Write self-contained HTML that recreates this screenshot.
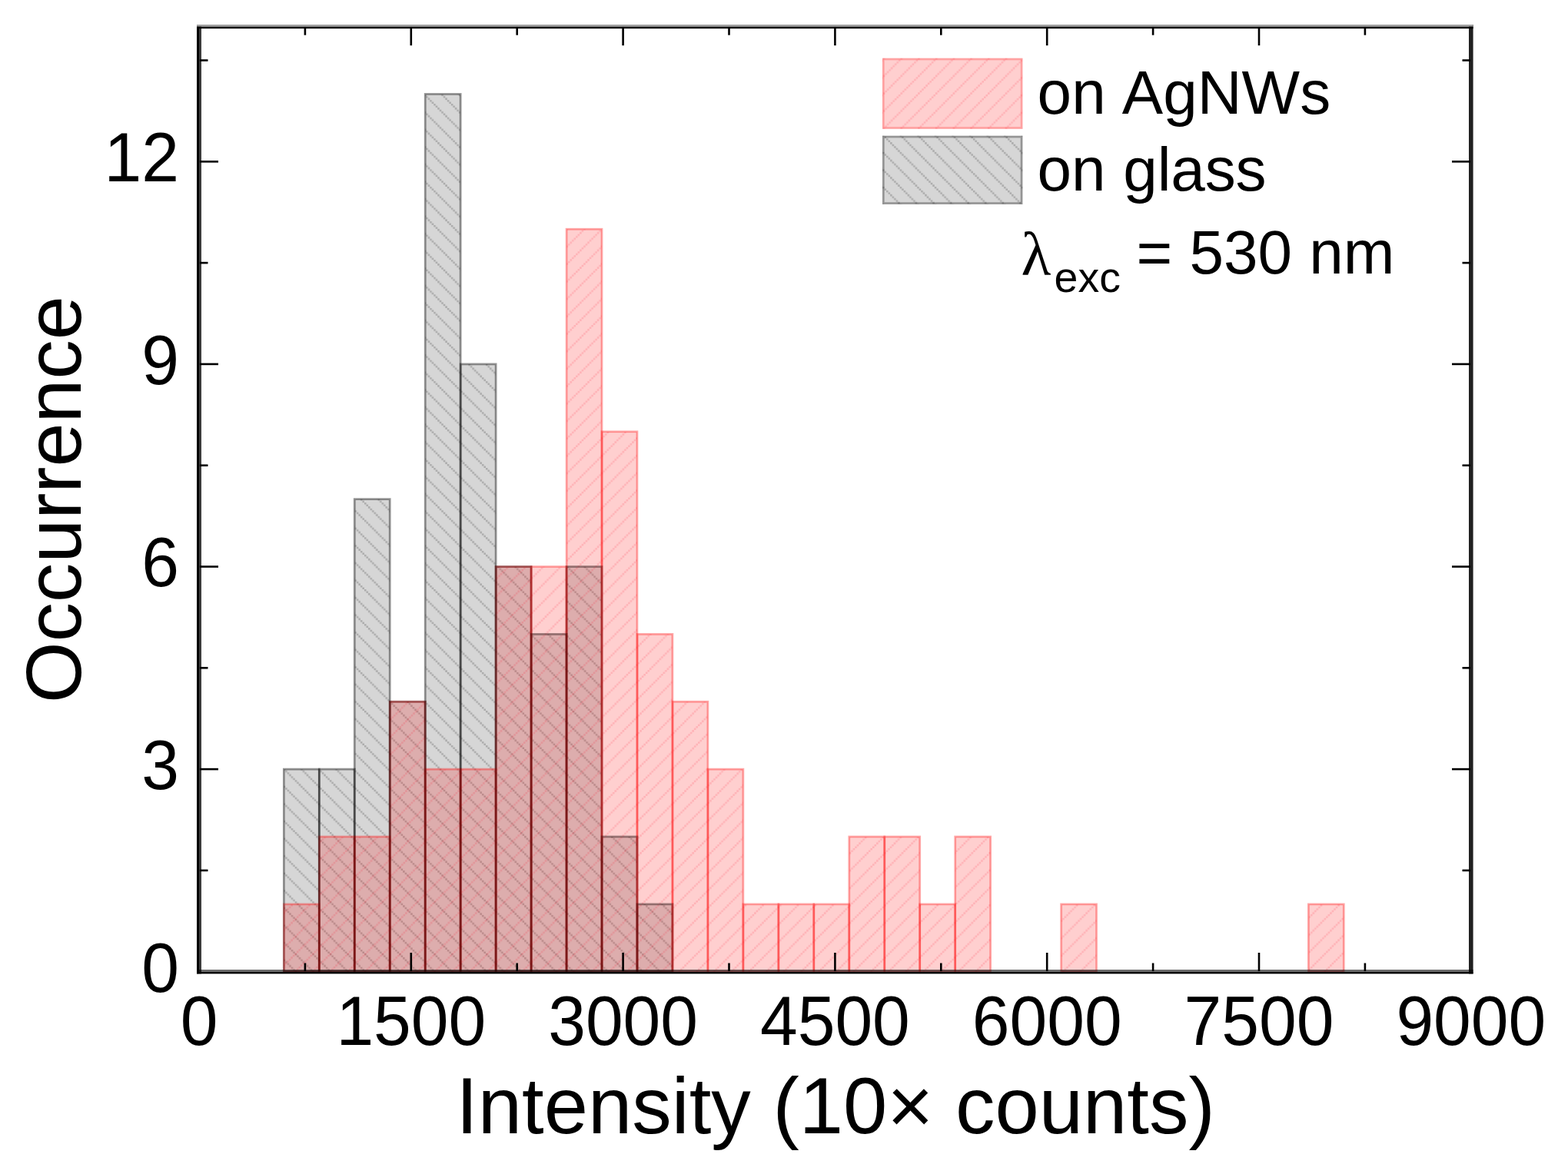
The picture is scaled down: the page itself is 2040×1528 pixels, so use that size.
<!DOCTYPE html>
<html lang="en"><head><meta charset="utf-8"><title>Intensity histogram</title>
<style>
html,body{margin:0;padding:0;background:#fff;}
body{width:2040px;height:1528px;overflow:hidden;}
svg{display:block;}
text{font-family:"Liberation Sans",sans-serif;fill:#000;}
.tick{font-size:87.6px;}
.title{font-size:103px;}
.legend{font-size:80px;}
</style></head><body>
<svg xmlns="http://www.w3.org/2000/svg" width="2040" height="1528" viewBox="0 0 2040 1528">
<defs>
<pattern id="hg" patternUnits="userSpaceOnUse" width="22.57" height="22.57" x="0" y="-0.4">
<path d="M0.000 0.000h2.508v2.508h-2.508zM2.508 2.508h2.508v2.508h-2.508zM5.016 5.016h2.508v2.508h-2.508zM7.523 7.523h2.508v2.508h-2.508zM10.031 10.031h2.508v2.508h-2.508zM12.539 12.539h2.508v2.508h-2.508zM15.047 15.047h2.508v2.508h-2.508zM17.554 17.554h2.508v2.508h-2.508zM20.062 20.062h2.508v2.508h-2.508z" fill="rgba(0,0,0,0.20)"/>
</pattern>
<pattern id="hr" patternUnits="userSpaceOnUse" width="22.7" height="22.7" x="0" y="14.4">
<path d="M0.000 20.178h2.522v2.522h-2.522zM2.522 17.656h2.522v2.522h-2.522zM5.044 15.133h2.522v2.522h-2.522zM7.567 12.611h2.522v2.522h-2.522zM10.089 10.089h2.522v2.522h-2.522zM12.611 7.567h2.522v2.522h-2.522zM15.133 5.044h2.522v2.522h-2.522zM17.656 2.522h2.522v2.522h-2.522zM20.178 0.000h2.522v2.522h-2.522z" fill="rgba(255,0,30,0.14)"/>
</pattern>
<pattern id="hgl" patternUnits="userSpaceOnUse" width="22.57" height="22.57" x="2" y="-0.4">
<path d="M0.000 0.000h2.508v2.508h-2.508zM2.508 2.508h2.508v2.508h-2.508zM5.016 5.016h2.508v2.508h-2.508zM7.523 7.523h2.508v2.508h-2.508zM10.031 10.031h2.508v2.508h-2.508zM12.539 12.539h2.508v2.508h-2.508zM15.047 15.047h2.508v2.508h-2.508zM17.554 17.554h2.508v2.508h-2.508zM20.062 20.062h2.508v2.508h-2.508z" fill="rgba(0,0,0,0.20)"/>
</pattern>
<pattern id="hrl" patternUnits="userSpaceOnUse" width="22.7" height="22.7" x="8.8" y="14.4">
<path d="M0.000 20.178h2.522v2.522h-2.522zM2.522 17.656h2.522v2.522h-2.522zM5.044 15.133h2.522v2.522h-2.522zM7.567 12.611h2.522v2.522h-2.522zM10.089 10.089h2.522v2.522h-2.522zM12.611 7.567h2.522v2.522h-2.522zM15.133 5.044h2.522v2.522h-2.522zM17.656 2.522h2.522v2.522h-2.522zM20.178 0.000h2.522v2.522h-2.522z" fill="rgba(255,0,30,0.14)"/>
</pattern>
</defs>
<rect width="2040" height="1528" fill="#fff"/>
<g>
<rect x="369.32" y="1001.11" width="45.97" height="263.59" fill="rgba(0,0,0,0.16)"/>
<rect x="369.32" y="1001.11" width="45.97" height="263.59" fill="url(#hg)"/>
<rect x="415.29" y="1001.11" width="45.97" height="263.59" fill="rgba(0,0,0,0.16)"/>
<rect x="415.29" y="1001.11" width="45.97" height="263.59" fill="url(#hg)"/>
<rect x="461.25" y="649.65" width="45.97" height="615.05" fill="rgba(0,0,0,0.16)"/>
<rect x="461.25" y="649.65" width="45.97" height="615.05" fill="url(#hg)"/>
<rect x="507.22" y="913.24" width="45.97" height="351.46" fill="rgba(0,0,0,0.16)"/>
<rect x="507.22" y="913.24" width="45.97" height="351.46" fill="url(#hg)"/>
<rect x="553.19" y="122.46" width="45.97" height="1142.24" fill="rgba(0,0,0,0.16)"/>
<rect x="553.19" y="122.46" width="45.97" height="1142.24" fill="url(#hg)"/>
<rect x="599.15" y="473.92" width="45.97" height="790.78" fill="rgba(0,0,0,0.16)"/>
<rect x="599.15" y="473.92" width="45.97" height="790.78" fill="url(#hg)"/>
<rect x="645.12" y="737.51" width="45.97" height="527.19" fill="rgba(0,0,0,0.16)"/>
<rect x="645.12" y="737.51" width="45.97" height="527.19" fill="url(#hg)"/>
<rect x="691.09" y="825.38" width="45.97" height="439.32" fill="rgba(0,0,0,0.16)"/>
<rect x="691.09" y="825.38" width="45.97" height="439.32" fill="url(#hg)"/>
<rect x="737.05" y="737.51" width="45.97" height="527.19" fill="rgba(0,0,0,0.16)"/>
<rect x="737.05" y="737.51" width="45.97" height="527.19" fill="url(#hg)"/>
<rect x="783.02" y="1088.97" width="45.97" height="175.73" fill="rgba(0,0,0,0.16)"/>
<rect x="783.02" y="1088.97" width="45.97" height="175.73" fill="url(#hg)"/>
<rect x="828.99" y="1176.84" width="45.97" height="87.86" fill="rgba(0,0,0,0.16)"/>
<rect x="828.99" y="1176.84" width="45.97" height="87.86" fill="url(#hg)"/>
</g>
<g fill="none" stroke="rgba(0,0,0,0.232)" stroke-width="2.7">
<rect x="369.32" y="1001.11" width="45.97" height="263.59"/>
<rect x="415.29" y="1001.11" width="45.97" height="263.59"/>
<rect x="461.25" y="649.65" width="45.97" height="615.05"/>
<rect x="507.22" y="913.24" width="45.97" height="351.46"/>
<rect x="553.19" y="122.46" width="45.97" height="1142.24"/>
<rect x="599.15" y="473.92" width="45.97" height="790.78"/>
<rect x="645.12" y="737.51" width="45.97" height="527.19"/>
<rect x="691.09" y="825.38" width="45.97" height="439.32"/>
<rect x="737.05" y="737.51" width="45.97" height="527.19"/>
<rect x="783.02" y="1088.97" width="45.97" height="175.73"/>
<rect x="828.99" y="1176.84" width="45.97" height="87.86"/>
</g>
<g>
<rect x="369.32" y="1176.84" width="45.97" height="87.86" fill="rgba(255,0,0,0.19)"/>
<rect x="369.32" y="1176.84" width="45.97" height="87.86" fill="url(#hr)"/>
<rect x="415.29" y="1088.97" width="45.97" height="175.73" fill="rgba(255,0,0,0.19)"/>
<rect x="415.29" y="1088.97" width="45.97" height="175.73" fill="url(#hr)"/>
<rect x="461.25" y="1088.97" width="45.97" height="175.73" fill="rgba(255,0,0,0.19)"/>
<rect x="461.25" y="1088.97" width="45.97" height="175.73" fill="url(#hr)"/>
<rect x="507.22" y="913.24" width="45.97" height="351.46" fill="rgba(255,0,0,0.19)"/>
<rect x="507.22" y="913.24" width="45.97" height="351.46" fill="url(#hr)"/>
<rect x="553.19" y="1001.11" width="45.97" height="263.59" fill="rgba(255,0,0,0.19)"/>
<rect x="553.19" y="1001.11" width="45.97" height="263.59" fill="url(#hr)"/>
<rect x="599.15" y="1001.11" width="45.97" height="263.59" fill="rgba(255,0,0,0.19)"/>
<rect x="599.15" y="1001.11" width="45.97" height="263.59" fill="url(#hr)"/>
<rect x="645.12" y="737.51" width="45.97" height="527.19" fill="rgba(255,0,0,0.19)"/>
<rect x="645.12" y="737.51" width="45.97" height="527.19" fill="url(#hr)"/>
<rect x="691.09" y="737.51" width="45.97" height="527.19" fill="rgba(255,0,0,0.19)"/>
<rect x="691.09" y="737.51" width="45.97" height="527.19" fill="url(#hr)"/>
<rect x="737.05" y="298.19" width="45.97" height="966.51" fill="rgba(255,0,0,0.19)"/>
<rect x="737.05" y="298.19" width="45.97" height="966.51" fill="url(#hr)"/>
<rect x="783.02" y="561.79" width="45.97" height="702.91" fill="rgba(255,0,0,0.19)"/>
<rect x="783.02" y="561.79" width="45.97" height="702.91" fill="url(#hr)"/>
<rect x="828.99" y="825.38" width="45.97" height="439.32" fill="rgba(255,0,0,0.19)"/>
<rect x="828.99" y="825.38" width="45.97" height="439.32" fill="url(#hr)"/>
<rect x="874.95" y="913.24" width="45.97" height="351.46" fill="rgba(255,0,0,0.19)"/>
<rect x="874.95" y="913.24" width="45.97" height="351.46" fill="url(#hr)"/>
<rect x="920.92" y="1001.11" width="45.97" height="263.59" fill="rgba(255,0,0,0.19)"/>
<rect x="920.92" y="1001.11" width="45.97" height="263.59" fill="url(#hr)"/>
<rect x="966.89" y="1176.84" width="45.97" height="87.86" fill="rgba(255,0,0,0.19)"/>
<rect x="966.89" y="1176.84" width="45.97" height="87.86" fill="url(#hr)"/>
<rect x="1012.85" y="1176.84" width="45.97" height="87.86" fill="rgba(255,0,0,0.19)"/>
<rect x="1012.85" y="1176.84" width="45.97" height="87.86" fill="url(#hr)"/>
<rect x="1058.82" y="1176.84" width="45.97" height="87.86" fill="rgba(255,0,0,0.19)"/>
<rect x="1058.82" y="1176.84" width="45.97" height="87.86" fill="url(#hr)"/>
<rect x="1104.79" y="1088.97" width="45.97" height="175.73" fill="rgba(255,0,0,0.19)"/>
<rect x="1104.79" y="1088.97" width="45.97" height="175.73" fill="url(#hr)"/>
<rect x="1150.75" y="1088.97" width="45.97" height="175.73" fill="rgba(255,0,0,0.19)"/>
<rect x="1150.75" y="1088.97" width="45.97" height="175.73" fill="url(#hr)"/>
<rect x="1196.72" y="1176.84" width="45.97" height="87.86" fill="rgba(255,0,0,0.19)"/>
<rect x="1196.72" y="1176.84" width="45.97" height="87.86" fill="url(#hr)"/>
<rect x="1242.69" y="1088.97" width="45.97" height="175.73" fill="rgba(255,0,0,0.19)"/>
<rect x="1242.69" y="1088.97" width="45.97" height="175.73" fill="url(#hr)"/>
<rect x="1380.59" y="1176.84" width="45.97" height="87.86" fill="rgba(255,0,0,0.19)"/>
<rect x="1380.59" y="1176.84" width="45.97" height="87.86" fill="url(#hr)"/>
<rect x="1702.35" y="1176.84" width="45.97" height="87.86" fill="rgba(255,0,0,0.19)"/>
<rect x="1702.35" y="1176.84" width="45.97" height="87.86" fill="url(#hr)"/>
</g>
<g fill="none" stroke="rgba(255,0,0,0.34)" stroke-width="2.7">
<rect x="369.32" y="1176.84" width="45.97" height="87.86"/>
<rect x="415.29" y="1088.97" width="45.97" height="175.73"/>
<rect x="461.25" y="1088.97" width="45.97" height="175.73"/>
<rect x="507.22" y="913.24" width="45.97" height="351.46"/>
<rect x="553.19" y="1001.11" width="45.97" height="263.59"/>
<rect x="599.15" y="1001.11" width="45.97" height="263.59"/>
<rect x="645.12" y="737.51" width="45.97" height="527.19"/>
<rect x="691.09" y="737.51" width="45.97" height="527.19"/>
<rect x="737.05" y="298.19" width="45.97" height="966.51"/>
<rect x="783.02" y="561.79" width="45.97" height="702.91"/>
<rect x="828.99" y="825.38" width="45.97" height="439.32"/>
<rect x="874.95" y="913.24" width="45.97" height="351.46"/>
<rect x="920.92" y="1001.11" width="45.97" height="263.59"/>
<rect x="966.89" y="1176.84" width="45.97" height="87.86"/>
<rect x="1012.85" y="1176.84" width="45.97" height="87.86"/>
<rect x="1058.82" y="1176.84" width="45.97" height="87.86"/>
<rect x="1104.79" y="1088.97" width="45.97" height="175.73"/>
<rect x="1150.75" y="1088.97" width="45.97" height="175.73"/>
<rect x="1196.72" y="1176.84" width="45.97" height="87.86"/>
<rect x="1242.69" y="1088.97" width="45.97" height="175.73"/>
<rect x="1380.59" y="1176.84" width="45.97" height="87.86"/>
<rect x="1702.35" y="1176.84" width="45.97" height="87.86"/>
</g>
<g fill="none" stroke="rgba(0,0,0,0.232)" stroke-width="2.7">
<rect x="369.32" y="1001.11" width="45.97" height="263.59"/>
<rect x="415.29" y="1001.11" width="45.97" height="263.59"/>
<rect x="461.25" y="649.65" width="45.97" height="615.05"/>
<rect x="507.22" y="913.24" width="45.97" height="351.46"/>
<rect x="553.19" y="122.46" width="45.97" height="1142.24"/>
<rect x="599.15" y="473.92" width="45.97" height="790.78"/>
<rect x="645.12" y="737.51" width="45.97" height="527.19"/>
<rect x="691.09" y="825.38" width="45.97" height="439.32"/>
<rect x="737.05" y="737.51" width="45.97" height="527.19"/>
<rect x="783.02" y="1088.97" width="45.97" height="175.73"/>
<rect x="828.99" y="1176.84" width="45.97" height="87.86"/>
</g>
<rect x="1148.00" y="75.70" width="182.40" height="92.10" fill="rgba(255,0,0,0.19)"/>
<rect x="1148.00" y="75.70" width="182.40" height="92.10" fill="url(#hrl)"/>
<rect x="1149.35" y="77.05" width="179.70" height="89.40" fill="none" stroke="rgba(255,0,0,0.22)" stroke-width="2.7"/>
<rect x="1148.00" y="176.70" width="182.40" height="89.20" fill="rgba(0,0,0,0.16)"/>
<rect x="1148.00" y="176.70" width="182.40" height="89.20" fill="url(#hgl)"/>
<rect x="1149.35" y="178.05" width="179.70" height="86.50" fill="none" stroke="rgba(0,0,0,0.30)" stroke-width="2.7"/>
<g>
<rect x="256" y="32" width="3" height="1235.4" fill="#000"/>
<rect x="259" y="32" width="3" height="1235.4" fill="#3c3c3c"/>
<rect x="1911" y="32" width="5.6" height="1235.4" fill="#202020"/>
<rect x="256" y="32" width="1660.6" height="2.7" fill="#a0a0a0"/>
<rect x="256" y="34.7" width="1660.6" height="2.5" fill="#000"/>
<rect x="256" y="1262" width="1660.6" height="2.8" fill="rgba(0,0,0,0.58)"/>
<rect x="256" y="1264.8" width="1660.6" height="2.6" fill="#000"/>
</g>
<g fill="#000">
<rect x="395.60" y="1253.50" width="2.6" height="10.50"/>
<rect x="395.60" y="35.20" width="2.6" height="10.50"/>
<rect x="533.50" y="1240.00" width="2.6" height="24.00"/>
<rect x="533.50" y="35.20" width="2.6" height="24.00"/>
<rect x="671.40" y="1253.50" width="2.6" height="10.50"/>
<rect x="671.40" y="35.20" width="2.6" height="10.50"/>
<rect x="809.30" y="1240.00" width="2.6" height="24.00"/>
<rect x="809.30" y="35.20" width="2.6" height="24.00"/>
<rect x="947.20" y="1253.50" width="2.6" height="10.50"/>
<rect x="947.20" y="35.20" width="2.6" height="10.50"/>
<rect x="1085.10" y="1240.00" width="2.6" height="24.00"/>
<rect x="1085.10" y="35.20" width="2.6" height="24.00"/>
<rect x="1223.00" y="1253.50" width="2.6" height="10.50"/>
<rect x="1223.00" y="35.20" width="2.6" height="10.50"/>
<rect x="1360.90" y="1240.00" width="2.6" height="24.00"/>
<rect x="1360.90" y="35.20" width="2.6" height="24.00"/>
<rect x="1498.80" y="1253.50" width="2.6" height="10.50"/>
<rect x="1498.80" y="35.20" width="2.6" height="10.50"/>
<rect x="1636.70" y="1240.00" width="2.6" height="24.00"/>
<rect x="1636.70" y="35.20" width="2.6" height="24.00"/>
<rect x="1774.60" y="1253.50" width="2.6" height="10.50"/>
<rect x="1774.60" y="35.20" width="2.6" height="10.50"/>
<rect x="260.00" y="1131.60" width="10.50" height="2.6"/>
<rect x="1902.50" y="1131.60" width="10.50" height="2.6"/>
<rect x="260.00" y="999.81" width="24.00" height="2.6"/>
<rect x="1889.00" y="999.81" width="24.00" height="2.6"/>
<rect x="260.00" y="868.01" width="10.50" height="2.6"/>
<rect x="1902.50" y="868.01" width="10.50" height="2.6"/>
<rect x="260.00" y="736.21" width="24.00" height="2.6"/>
<rect x="1889.00" y="736.21" width="24.00" height="2.6"/>
<rect x="260.00" y="604.42" width="10.50" height="2.6"/>
<rect x="1902.50" y="604.42" width="10.50" height="2.6"/>
<rect x="260.00" y="472.62" width="24.00" height="2.6"/>
<rect x="1889.00" y="472.62" width="24.00" height="2.6"/>
<rect x="260.00" y="340.82" width="10.50" height="2.6"/>
<rect x="1902.50" y="340.82" width="10.50" height="2.6"/>
<rect x="260.00" y="209.03" width="24.00" height="2.6"/>
<rect x="1889.00" y="209.03" width="24.00" height="2.6"/>
<rect x="260.00" y="77.23" width="10.50" height="2.6"/>
<rect x="1902.50" y="77.23" width="10.50" height="2.6"/>
</g>
<g class="tick" text-anchor="middle">
<text transform="translate(259.00 1359.90) scale(1 1.03)">0</text>
<text transform="translate(534.80 1359.90) scale(1 1.03)">1500</text>
<text transform="translate(810.60 1359.90) scale(1 1.03)">3000</text>
<text transform="translate(1086.40 1359.90) scale(1 1.03)">4500</text>
<text transform="translate(1362.20 1359.90) scale(1 1.03)">6000</text>
<text transform="translate(1638.00 1359.90) scale(1 1.03)">7500</text>
<text transform="translate(1913.80 1359.90) scale(1 1.03)">9000</text>
</g>
<g class="tick" text-anchor="end">
<text transform="translate(233.00 1290.60) scale(1 1.03)">0</text>
<text transform="translate(233.00 1027.01) scale(1 1.03)">3</text>
<text transform="translate(233.00 763.41) scale(1 1.03)">6</text>
<text transform="translate(233.00 499.82) scale(1 1.03)">9</text>
<text transform="translate(233.00 236.23) scale(1 1.03)">12</text>
</g>
<text class="title" text-anchor="middle" x="1087.00" y="1475.00">Intensity (10× counts)</text>
<text class="title" text-anchor="middle" style="font-size:102.5px" transform="translate(105.00 650.20) rotate(-90)">Occurrence</text>
<text class="legend" x="1349.6" y="148.4" word-spacing="3" letter-spacing="0.1">on AgNWs</text>
<text class="legend" x="1349.6" y="248.3" word-spacing="1" letter-spacing="-0.15">on glass</text>
<text class="legend" y="355.7"><tspan x="1328.4" y="357.8" font-family="'Liberation Serif',serif">λ</tspan><tspan x="1371.6" y="379.6" font-size="55.5">exc</tspan><tspan x="1478.6" y="355.7">= 530 nm</tspan></text>
</svg>
</body></html>
